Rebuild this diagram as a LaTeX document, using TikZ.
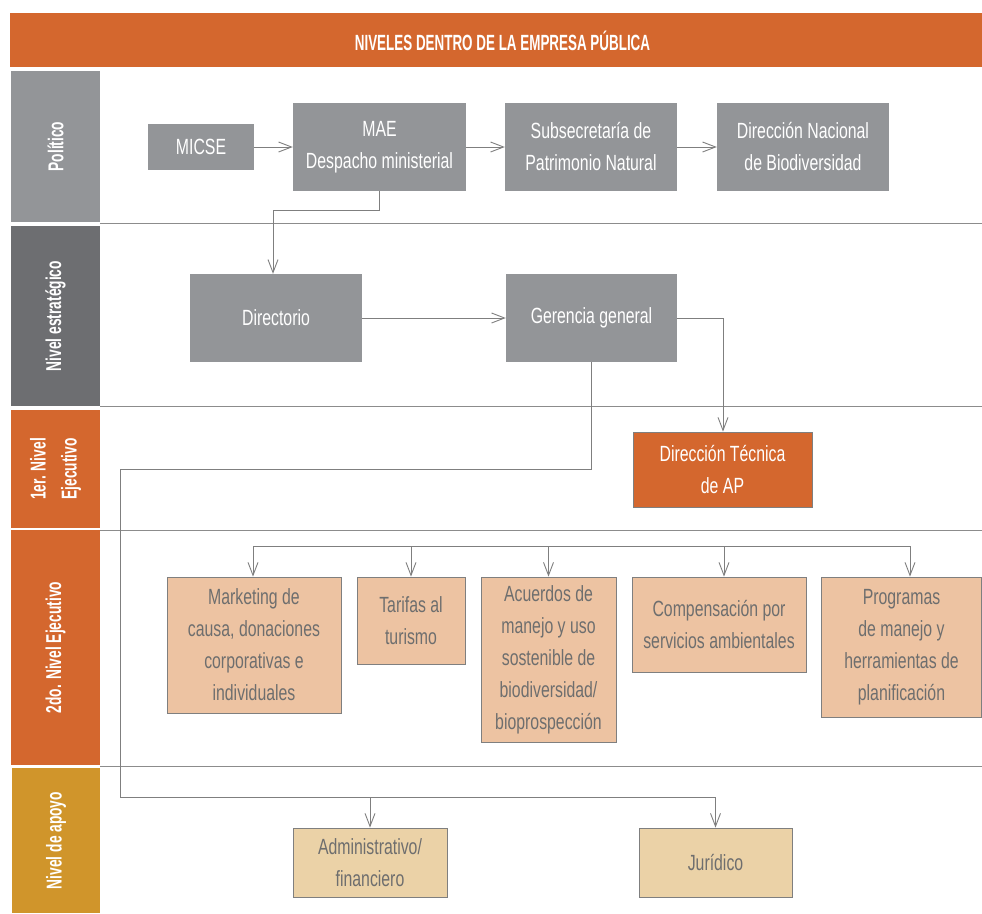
\documentclass[tikz,border=0pt]{standalone}
\usepackage{fontspec}
\setmainfont{Liberation Sans}[FakeStretch=0.72]
\newfontfamily\headfont{Liberation Sans}[FakeStretch=0.61]
\newfontfamily\sidefont{Liberation Sans}[FakeStretch=0.64]
\usetikzlibrary{arrows.meta}
\definecolor{hdrorange}{HTML}{D4672E}
\definecolor{boxgray}{HTML}{939598}
\definecolor{darkgray}{HTML}{6D6E71}
\definecolor{gold}{HTML}{D0952B}
\definecolor{peach}{HTML}{EDC3A2}
\definecolor{tan}{HTML}{EBD2A7}
\definecolor{linec}{HTML}{7F7F7F}
\definecolor{sepc}{HTML}{8C8C8C}
\definecolor{txtgray}{HTML}{6E6E6E}
\tikzset{
  bodyfont/.style={font=\fontsize{22}{32}\selectfont},
  gbox/.style={fill=boxgray, text=white, inner sep=0pt, align=center, bodyfont},
  pbox/.style={fill=peach, draw=linec, line width=0.8pt, text=txtgray, inner sep=0pt, align=center, bodyfont},
  tbox/.style={fill=tan, draw=linec, line width=0.8pt, text=txtgray, inner sep=0pt, align=center, bodyfont},
  obox/.style={fill=hdrorange, draw=linec, line width=0.8pt, text=white, inner sep=0pt, align=center, bodyfont},
  band/.style={rotate=90, inner sep=0pt, text=white, align=center,
    font=\sidefont\bfseries\fontsize{21.5}{31}\selectfont},
  arr/.style={draw=linec, line width=0.9pt, -{Straight Barb[length=13pt,width=10pt]}},
  conn/.style={draw=linec, line width=0.9pt},
  sep/.style={draw=sepc, line width=0.9pt}
}
\begin{document}
\begin{tikzpicture}[x=1pt,y=-1pt]
\useasboundingbox[fill=white] (0,0) rectangle (982,913);
% header
\node[fill=hdrorange, minimum width=972pt, minimum height=54pt, inner sep=0pt] (header) at (496,40) {};
\node[text=white, font=\headfont\bfseries\fontsize{22}{24}\selectfont, inner sep=0pt] (title) at (502.5,40.5) {NIVELES DENTRO DE LA EMPRESA PÚBLICA};
% side bands
\node[band, fill=boxgray, minimum width=151pt, minimum height=89pt] (lp) at (55.5,146.5) {Político};
\node[band, fill=darkgray, minimum width=180pt, minimum height=89pt] (le) at (55.5,316) {Nivel estratégico};
\node[band, fill=hdrorange, minimum width=118pt, minimum height=89pt] (l1) at (55.5,469) {1er. Nivel\\Ejecutivo};
\node[band, fill=hdrorange, minimum width=235pt, minimum height=89pt] (l2) at (55.5,647.5) {2do. Nivel Ejecutivo};
\node[band, fill=gold, minimum width=145pt, minimum height=88pt] (la) at (56,840.5) {Nivel de apoyo};
% separators
\draw[sep] (100,223) -- (982,223);
\draw[sep] (100,406.5) -- (982,406.5);
\draw[sep] (100,530) -- (982,530);
\draw[sep] (100,766) -- (982,766);
% boxes
\node[gbox, minimum width=106pt, minimum height=46pt] (micse) at (201,147) {MICSE};
\node[gbox, minimum width=173pt, minimum height=88pt] (mae) at (379.5,147) {MAE\\Despacho ministerial};
\node[gbox, minimum width=172pt, minimum height=88pt] (subs) at (591,147) {Subsecretaría de\\Patrimonio Natural};
\node[gbox, minimum width=172pt, minimum height=88pt] (dnb) at (803,147) {Dirección Nacional\\de Biodiversidad};
\node[gbox, minimum width=172pt, minimum height=88pt] (dir) at (276,318) {Directorio};
\node[gbox, minimum width=171pt, minimum height=88pt] (ger) at (591.5,318) {Gerencia general};
\node[obox, minimum width=179pt, minimum height=75pt] (dta) at (722.5,469.5) {Dirección Técnica\\de AP};
\node[pbox, minimum width=174pt, minimum height=136pt] (mkt) at (254,645) {Marketing de\\causa, donaciones\\corporativas e\\individuales};
\node[pbox, minimum width=108pt, minimum height=87pt] (tar) at (411,620.5) {Tarifas al\\turismo};
\node[pbox, minimum width=135pt, minimum height=165pt] (acu) at (548.5,659.5) {Acuerdos de\\manejo y uso\\sostenible de\\biodiversidad/\\bioprospección};
\node[pbox, minimum width=174pt, minimum height=95pt] (comp) at (719,624.5) {Compensación por\\servicios ambientales};
\node[pbox, minimum width=160pt, minimum height=140pt] (prog) at (901.5,647) {Programas\\de manejo y\\herramientas de\\planificación};
\node[tbox, minimum width=154pt, minimum height=69pt] (adm) at (370,862.5) {Administrativo/\\financiero};
\node[tbox, minimum width=153pt, minimum height=69pt] (jur) at (715.5,862.5) {Jurídico};
% connectors political level
\draw[arr] (micse.east) -- (mae.west);
\draw[arr] (mae.east) -- (subs.west);
\draw[arr] (subs.east) -- (dnb.west);
\coordinate (m1) at (379.5,210);
\draw[arr] (mae.south) -- (m1) -| ([xshift=-3pt]dir.north);
\draw[arr] (dir.east) -- (ger.west);
\draw[arr] (ger.east) -| ([xshift=0.5pt]dta.north);
% to support level
\coordinate (bl1) at (120,469);
\coordinate (bl2) at (120,797);
\draw[arr] (ger.south) |- (bl1) -- (bl2) -| (jur.north);
\draw[arr] (adm.north |- bl2) -- (adm.north);
% second level bus
\coordinate (b1) at (253,546);
\coordinate (b2) at (910,546);
\draw[conn] (b1) -- (b2);
\draw[arr] (b1) -- (b1 |- mkt.north);
\draw[arr] (tar.north |- b1) -- (tar.north);
\draw[arr] (acu.north |- b1) -- (acu.north);
\draw[arr] ([xshift=5pt]comp.north |- b1) -- ([xshift=5pt]comp.north);
\draw[arr] (b2) -- (b2 |- prog.north);
\end{tikzpicture}
\end{document}
